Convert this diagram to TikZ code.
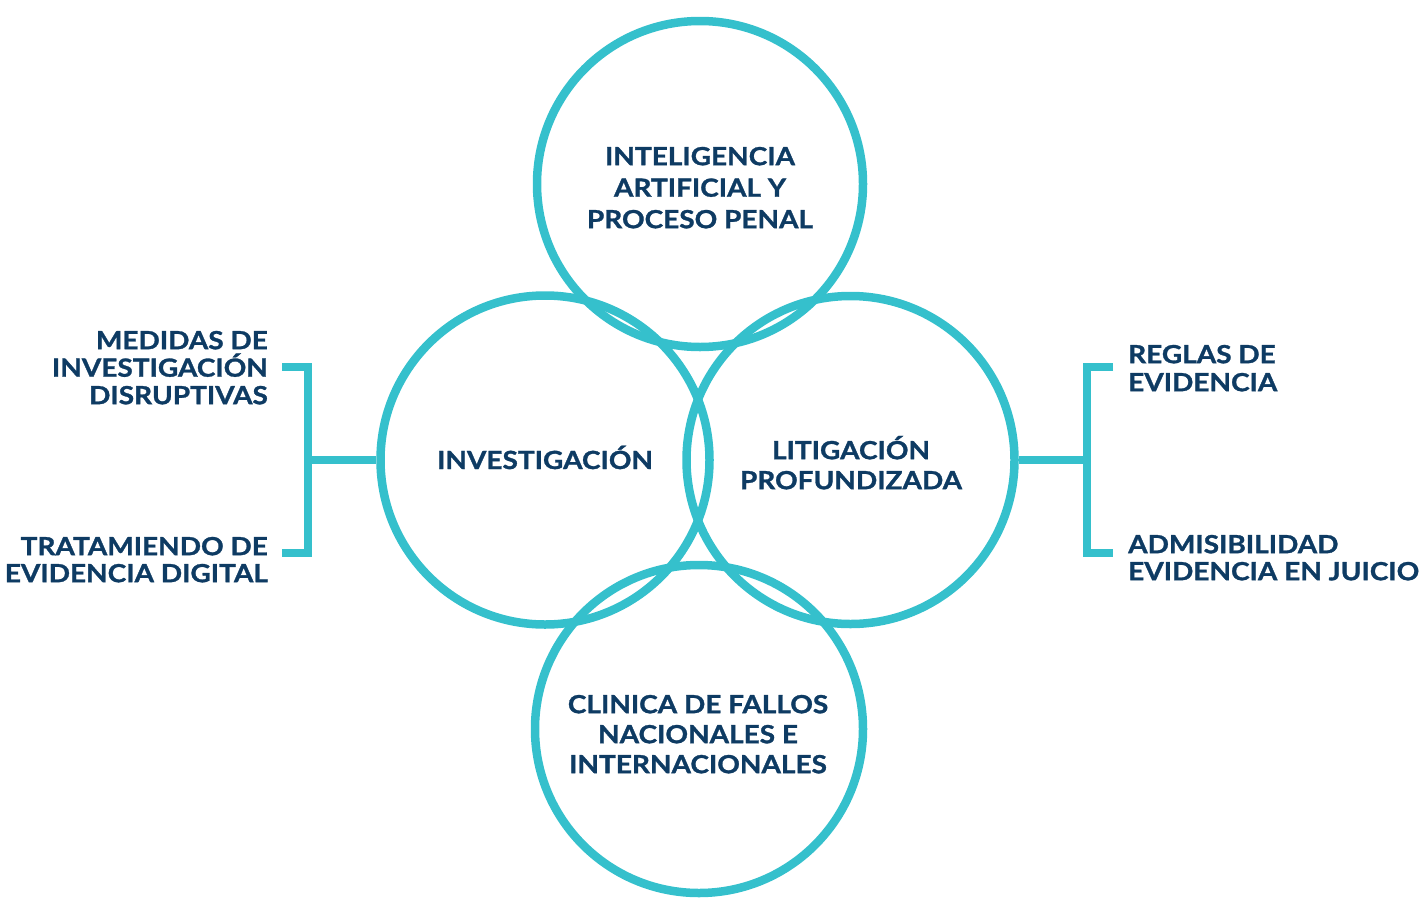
\documentclass[tikz,border=0pt]{standalone}
\usepackage{fontspec}
\setmainfont{Lato}[BoldFeatures={FakeStretch=1.12,FakeBold=1.2}]
\definecolor{teal}{RGB}{53,192,204}
\definecolor{navy}{RGB}{14,59,99}
\newcommand\tstrut{\rule{0pt}{27pt}}
\begin{document}
\begin{tikzpicture}[x=1pt,y=-1pt,
  ring/.style={circle,draw=teal,line width=8.5pt,inner sep=0pt,minimum size=#1},
  conn/.style={draw=teal,line width=8.5pt,miter limit=10},
  lbl/.style={inner sep=0pt,text=navy,font=\bfseries\fontsize{25}{#1}\selectfont}]
\useasboundingbox (0,0) rectangle (1421,900);
% circles
\node[ring=326pt] (ctop) at (700,184) {};
\node[ring=329pt] (cleft) at (545,460) {};
\node[ring=328pt] (cright) at (850.5,460) {};
\node[ring=328pt] (cbot) at (699,729) {};
% circle texts
\node[lbl=31.5,align=center,anchor=north] (ttop) at (700,138)
  {\tstrut INTELIGENCIA\\ARTIFICIAL Y\\PROCESO PENAL};
\node[lbl=30,anchor=base] (tleft) at (545,469) {INVESTIGACIÓN};
\node[lbl=30,align=center,anchor=north] (tright) at (851,432)
  {\tstrut LITIGACIÓN\\PROFUNDIZADA};
\node[lbl=30,align=center,anchor=north] (tbot) at (698,686)
  {\tstrut CLINICA DE FALLOS\\NACIONALES E\\INTERNACIONALES};
% side texts
\node[lbl=27.5,align=right,anchor=north east] (l1) at (268,322)
  {\tstrut MEDIDAS DE\\INVESTIGACIÓN\\DISRUPTIVAS};
\node[lbl=27,align=right,anchor=north east] (l2) at (268,528)
  {\tstrut TRATAMIENDO DE\\EVIDENCIA DIGITAL};
\node[lbl=28,align=left,anchor=north west] (r1) at (1128,336)
  {\tstrut REGLAS DE\\EVIDENCIA};
\node[lbl=27,align=left,anchor=north west] (r2) at (1128,526)
  {\tstrut ADMISIBILIDAD\\EVIDENCIA EN JUICIO};
% left bracket
\coordinate (la) at (282,367);
\coordinate (lb) at (308,367);
\coordinate (lc) at (308,553);
\coordinate (ld) at (282,553);
\coordinate (lm) at (308,460);
\draw[conn] (la) -- (lb) -- (lc) -- (ld);
\draw[conn] (lm) -- (cleft.west);
% right bracket
\coordinate (ra) at (1113,367);
\coordinate (rb) at (1087,367);
\coordinate (rc) at (1087,553);
\coordinate (rd) at (1113,553);
\coordinate (rm) at (1087,460);
\draw[conn] (ra) -- (rb) -- (rc) -- (rd);
\draw[conn] (cright.east) -- (rm);
\end{tikzpicture}
\end{document}
